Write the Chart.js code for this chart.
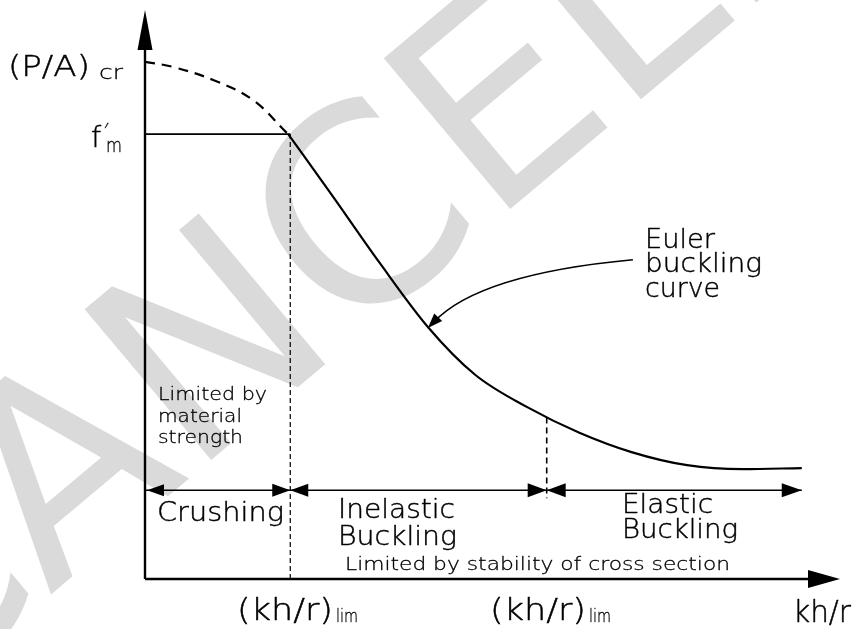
<!DOCTYPE html>
<html>
<head>
<meta charset="utf-8">
<script src="https://cdn.jsdelivr.net/npm/chart.js@4.4.1/dist/chart.umd.min.js"></script>
<style>
  html, body { margin: 0; padding: 0; background: #fff; }
  canvas { display: block; }
</style>
</head>
<body>
<canvas id="c" width="859" height="629"></canvas>
<script>
// Column strength (P/A)cr against slenderness kh/r, schematic units 0–100 on both axes.
const eulerDashedX = [0, 4.0, 9.8, 15.5, 20.4];
const eulerDashedY = [90.9, 90.0, 87.7, 84.2, 78.4];
const eulerSolidX = [20.6, 27.0, 33.8, 40.7, 47.5, 55.0, 62.5, 70.0, 78.0, 86.0, 94.5];
const eulerSolidY = [78.2, 67.3, 55.5, 44.3, 35.9, 30.2, 25.7, 22.3, 20.0, 19.3, 19.5];

const fmY = 78.2;            // f'm level
const limit1X = 20.9;        // end of crushing zone
const limit2X = 57.8;        // start of elastic buckling
const limit2CurveY = 28.4;   // curve height at limit2X
const zoneY = 15.6;          // height of the zone dimension line
const zoneEndX = 94.5;
const zoneTickBottomY = 14.2;

// Pointer from the "Euler buckling curve" note to the curve
const pointerFrom = [70.2, 56.1];
const pointerBend = [48.1, 53.6];
const pointerTo = [40.7, 44.1];

const zoneNames = ['Crushing', 'Inelastic\nBuckling', 'Elastic\nBuckling'];

const FAM = '"DejaVu Sans", "Open Sans", sans-serif';
const WEIGHT = '200';

function pts(xs, ys) { return xs.map((x, i) => ({ x, y: ys[i] })); }

// Draws a string starting at (x, baseline y); when a width is given the glyphs
// are stretched horizontally to span it, giving the wide drafting-lettering look.
function text(ctx, s, x, y, size, width) {
  ctx.save();
  ctx.font = `${WEIGHT} ${size}px ${FAM}`;
  ctx.textAlign = 'left';
  ctx.textBaseline = 'alphabetic';
  ctx.fillStyle = '#000';
  ctx.strokeStyle = '#000';
  ctx.lineWidth = size > 22 ? 0.45 : 0.3;
  ctx.lineJoin = 'round';
  ctx.translate(x, y);
  if (width) {
    const w = ctx.measureText(s).width;
    ctx.scale(width / w, 1);
  }
  ctx.fillText(s, 0, 0);
  ctx.strokeText(s, 0, 0);
  ctx.restore();
}

function head(ctx, tx, ty, dx, dy, len, half) {
  // filled triangular arrowhead with its tip at (tx, ty), pointing along (dx, dy)
  const m = Math.hypot(dx, dy); dx /= m; dy /= m;
  const bx = tx - dx * len, by = ty - dy * len;
  ctx.beginPath();
  ctx.moveTo(tx, ty);
  ctx.lineTo(bx - dy * half, by + dx * half);
  ctx.lineTo(bx + dy * half, by - dx * half);
  ctx.closePath();
  ctx.fill();
}

const diagram = {
  id: 'diagram',
  beforeDatasetsDraw(chart) {
    const ctx = chart.ctx;
    // faint stamp across the sheet
    ctx.save();
    ctx.fillStyle = '#dadada';
    ctx.font = `400 270px ${FAM}`;
    const ang = -40 * Math.PI / 180;
    const lead = ctx.measureText('CANC').width;
    const ex = 490, ey = 226;
    ctx.translate(ex - lead * Math.cos(ang), ey - lead * Math.sin(ang));
    ctx.rotate(ang);
    ctx.textBaseline = 'alphabetic';
    ctx.fillText('CANCELLED', 0, 0);
    ctx.restore();
  },
  afterDatasetsDraw(chart) {
    const ctx = chart.ctx;
    const X = v => chart.scales.x.getPixelForValue(v);
    const Y = v => chart.scales.y.getPixelForValue(v);
    ctx.save();
    ctx.strokeStyle = '#000';
    ctx.fillStyle = '#000';
    ctx.lineCap = 'butt';

    // axes
    ctx.lineWidth = 2.4;
    ctx.beginPath();
    ctx.moveTo(X(0), Y(0)); ctx.lineTo(X(0), Y(100) + 30);
    ctx.moveTo(X(0), Y(0)); ctx.lineTo(X(100) - 20, Y(0));
    ctx.stroke();
    head(ctx, X(0), Y(100), 0, -1, 40, 7.5);
    head(ctx, X(100), Y(0), 1, 0, 32, 9);

    // zone dimension line arrowheads
    head(ctx, X(0) + 2, Y(zoneY), -1, 0, 17, 6);
    head(ctx, X(limit1X), Y(zoneY), 1, 0, 18, 6.5);
    head(ctx, X(limit1X), Y(zoneY), -1, 0, 18, 6.5);
    head(ctx, X(limit2X), Y(zoneY), 1, 0, 19, 7);
    head(ctx, X(limit2X), Y(zoneY), -1, 0, 19, 7);
    head(ctx, X(zoneEndX), Y(zoneY), 1, 0, 20, 7);

    // pointer to the Euler curve
    const p0 = [X(pointerFrom[0]), Y(pointerFrom[1])];
    const pc = [X(pointerBend[0]), Y(pointerBend[1])];
    const p2 = [X(pointerTo[0]), Y(pointerTo[1])];
    ctx.lineWidth = 1.6;
    ctx.beginPath();
    ctx.moveTo(p0[0], p0[1]);
    ctx.quadraticCurveTo(pc[0], pc[1], p2[0] + 6, p2[1] - 6);
    ctx.stroke();
    head(ctx, p2[0], p2[1], p2[0] - pc[0], p2[1] - pc[1], 15, 5.5);

    // axis labels
    text(ctx, '(P/A)', 8, 76, 29, 82);
    text(ctx, 'cr', 99, 79, 19, 24);
    text(ctx, 'f', 91, Y(fmY) + 13, 29);
    text(ctx, '\u2032', 104, Y(fmY) + 4, 20);
    text(ctx, 'm', 106, Y(fmY) + 18, 19, 16);

    text(ctx, '(kh/r)', 237, 620, 30, 96);
    text(ctx, 'lim', 336, 622, 18, 22);
    text(ctx, '(kh/r)', 490, 620, 30, 96);
    text(ctx, 'lim', 589, 622, 18, 22);
    text(ctx, 'kh/r', 793, 622, 30, 58);

    // notes
    text(ctx, 'Euler', 645, 248, 27, 70);
    text(ctx, 'buckling', 645, 272, 27, 117);
    text(ctx, 'curve', 645, 297, 27, 75);

    text(ctx, 'Limited by', 158, 400, 18, 109);
    text(ctx, 'material', 158, 422, 18, 84);
    text(ctx, 'strength', 158, 443, 18, 85);

    const z1 = zoneNames[0].split('\n');
    const z2 = zoneNames[1].split('\n');
    const z3 = zoneNames[2].split('\n');
    text(ctx, z1[0], 157, 521, 27, 127);
    text(ctx, z2[0], 338, 518, 27, 117);
    text(ctx, z2[1], 338, 545, 27, 119);
    text(ctx, z3[0], 622, 513, 27, 91);
    text(ctx, z3[1], 622, 538, 27, 116);

    text(ctx, 'Limited by stability of cross section', 345, 570, 18, 385);
    ctx.restore();
  }
};

const lineStyle = { showLine: true, pointRadius: 0, borderColor: '#000', fill: false };

new Chart(document.getElementById('c'), {
  type: 'scatter',
  data: {
    datasets: [
      { ...lineStyle, data: pts(eulerDashedX, eulerDashedY), borderWidth: 2.2, borderDash: [10, 7], tension: 0.4 },
      { ...lineStyle, data: pts(eulerSolidX, eulerSolidY), borderWidth: 2.2, cubicInterpolationMode: 'monotone' },
      { ...lineStyle, data: [{ x: 0, y: fmY }, { x: limit1X, y: fmY }], borderWidth: 1.8 },
      { ...lineStyle, data: [{ x: limit1X, y: fmY }, { x: limit1X, y: 0 }], borderWidth: 1.2, borderDash: [5, 3] },
      { ...lineStyle, data: [{ x: limit2X, y: limit2CurveY }, { x: limit2X, y: zoneTickBottomY }], borderWidth: 1.6, borderDash: [6, 4] },
      { ...lineStyle, data: [{ x: 0, y: zoneY }, { x: zoneEndX, y: zoneY }], borderWidth: 1.6 }
    ]
  },
  options: {
    responsive: false,
    animation: false,
    devicePixelRatio: 1,
    layout: { padding: { left: 145, right: 19, top: 10, bottom: 50 } },
    plugins: { legend: { display: false }, tooltip: { enabled: false } },
    scales: {
      x: { type: 'linear', min: 0, max: 100, display: false },
      y: { type: 'linear', min: 0, max: 100, display: false }
    }
  },
  plugins: [diagram]
});
</script>
</body>
</html>
